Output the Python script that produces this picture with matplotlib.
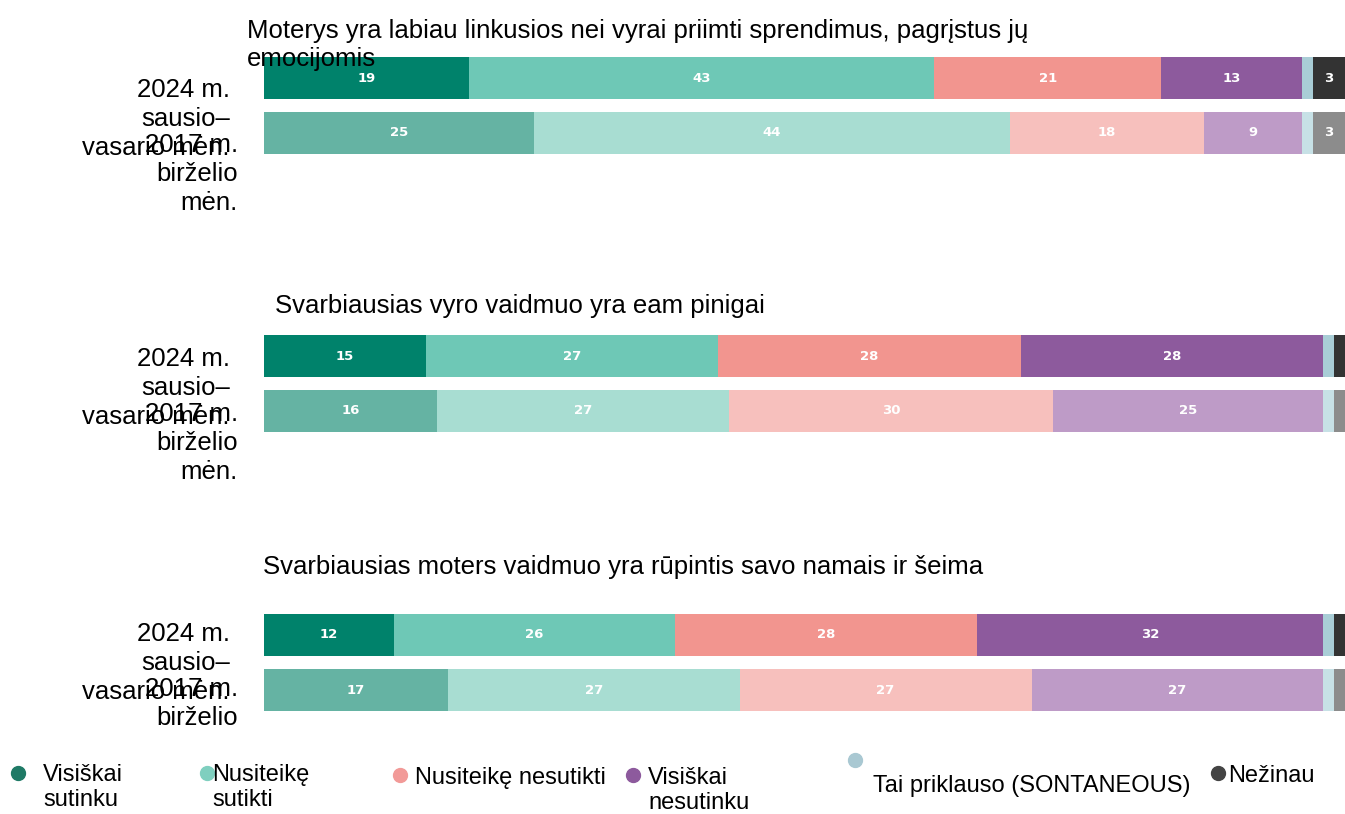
import matplotlib.pyplot as plt
from matplotlib.lines import Line2D
from matplotlib.patches import Rectangle
from matplotlib.transforms import blended_transform_factory

plt.rcParams['font.family'] = ['Liberation Sans', 'DejaVu Sans']

# data
titles = [
    'Moterys yra labiau linkusios nei vyrai priimti sprendimus, pagrįstus jų\nemocijomis',
    'Svarbiausias vyro vaidmuo yra eam pinigai',
    'Svarbiausias moters vaidmuo yra rūpintis savo namais ir šeima',
]
periods = ['2024 m.\nsausio–\nvasario mėn.', '2017 m.\nbirželio\nmėn.']
categories = ['Visiškai\nsutinku', 'Nusiteikę\nsutikti', 'Nusiteikę nesutikti',
              'Visiškai\nnesutinku', 'Tai priklauso (SONTANEOUS)', 'Nežinau']

# values per panel: [2024 row, 2017 row]
q1 = [[19, 43, 21, 13, 1, 3], [25, 44, 18, 9, 1, 3]]
q2 = [[15, 27, 28, 28, 1, 1], [16, 27, 30, 25, 1, 1]]
q3 = [[12, 26, 28, 32, 1, 1], [17, 27, 27, 27, 1, 1]]
panels = [q1, q2, q3]

colors_2024 = ['#00826b', '#6ec8b6', '#f2958f', '#8d5a9d', '#a9cdd6', '#333333']
colors_2017 = ['#65b3a3', '#a8ddd2', '#f7c0bd', '#be9bc7', '#c7e1e6', '#8c8c8c']
legend_colors = ['#1f7a66', '#7fcfbf', '#f29a98', '#8d5a9d', '#a9c8d2', '#444444']

fig = plt.figure(figsize=(13.45, 8.14), dpi=100)

W, H = 1345, 814
ax_boxes = [(50.5, 160.5), (328.5, 438.5), (607.5, 717.5)]  # top/bottom px
title_pos = [(247, 19), (275, 294), (263, 555)]
label_x = [230, 238]          # right edge of period labels, px
label_shift = [0, 9, 13]      # upward shift of period labels per panel, px

for k, data in enumerate(panels):
    top, bot = ax_boxes[k]
    ax = fig.add_axes([264 / W, 1 - bot / H, 1081 / W, (bot - top) / H])
    for r, row in enumerate(data):
        cols = colors_2024 if r == 0 else colors_2017
        left = 0
        for v, c in zip(row, cols):
            ax.barh(r, v, left=left, height=0.76, color=c, edgecolor='none')
            if v >= 2:
                ax.text(left + v / 2, r, str(v), ha='center', va='center',
                        color='white', fontsize=9.5, fontweight='bold',
                        family='DejaVu Sans')
            left += v
    ax.set_xlim(0, 100)
    ax.set_ylim(1.5, -0.5)
    ax.set_xticks([])
    ax.set_yticks([])
    for s in ax.spines.values():
        s.set_visible(False)
    trans = blended_transform_factory(ax.transAxes, ax.transData)
    for r, lab in enumerate(periods):
        ax.annotate(lab, xy=((label_x[r] - 264) / 1081, r), xycoords=trans,
                    xytext=(0, label_shift[k] * 0.72), textcoords='offset points',
                    fontsize=18.5, ha='right', va='top', multialignment='right',
                    linespacing=1.27, annotation_clip=False)
    tx, ty = title_pos[k]
    fig.text(tx / W, 1 - ty / H, titles[k], fontsize=18.5, va='top', ha='left')

# white strip under the legend
fig.add_artist(Rectangle((0, 0), 1, 1 - 732 / H, transform=fig.transFigure,
                         facecolor='white', edgecolor='none', zorder=5))

# legend, laid out by hand
marker_xy = [(18, 773), (207, 773), (400, 775), (633, 775), (855, 760), (1218, 773)]
text_xy = [(43, 764), (212, 764), (415, 767), (648, 767), (873, 775), (1228, 765)]
for (mx, my), (tx, ty), lab, c in zip(marker_xy, text_xy, categories, legend_colors):
    fig.add_artist(Line2D([mx / W], [1 - my / H], marker='o', markersize=10,
                          color=c, linestyle='none', transform=fig.transFigure,
                          zorder=6))
    fig.text(tx / W, 1 - ty / H, lab, fontsize=17, va='top', ha='left', zorder=6)

fig.savefig('out.png', dpi=100)
